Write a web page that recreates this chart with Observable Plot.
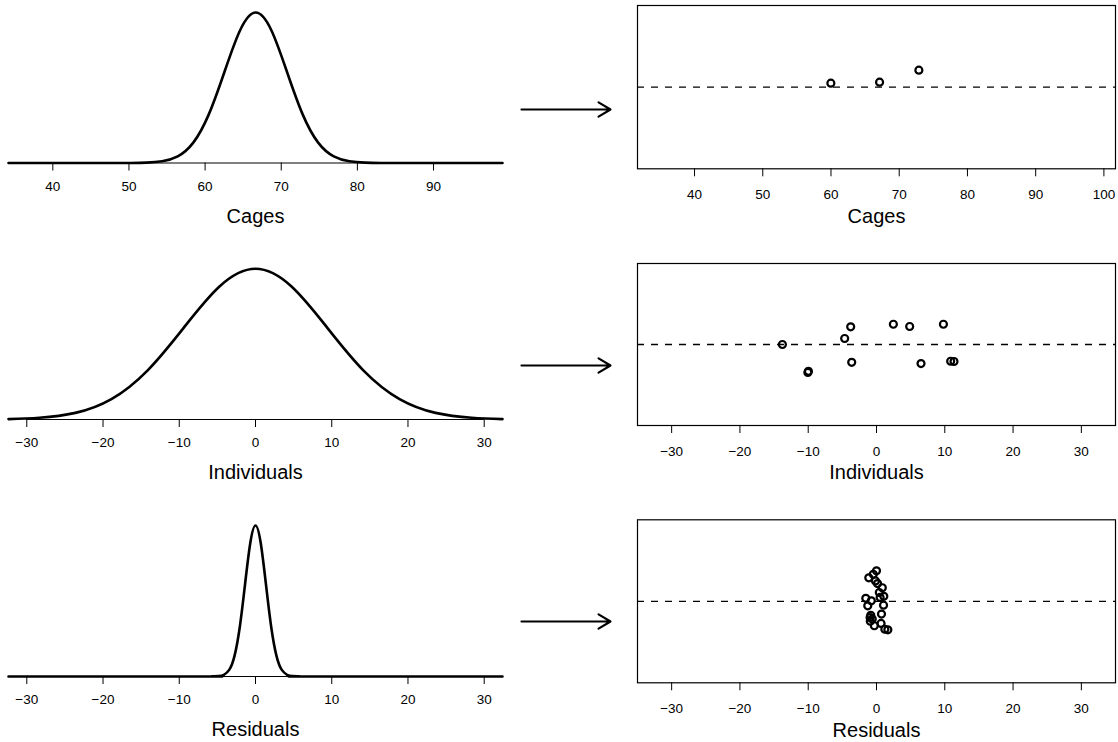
<!DOCTYPE html>
<html><head><meta charset="utf-8">
<script src="https://cdn.jsdelivr.net/npm/d3@7"></script>
<script src="https://cdn.jsdelivr.net/npm/@observablehq/plot@0.6"></script>
<style>
html,body{margin:0;padding:0;background:#fff;}
#root{position:relative;width:1118px;height:742px;overflow:hidden;background:#fff;}
.panel{position:absolute;}
.panel svg{overflow:visible;}
</style></head><body><div id="root"></div>
<script>
// ---- data ----
const rowNames = ["Cages", "Individuals", "Residuals"];

// density curves (relative height, peak = 1), read from the left column
const cagesDensX = [34.18, 46.15, 50.25, 52.3, 54.35, 56.4, 58.45, 60.5, 62.55, 64.6, 66.65, 68.7, 70.75, 72.8, 74.85, 76.9, 78.95, 81.0, 83.05, 87.15, 99.06];
const cagesDensY = [0, 0, 0.0003, 0.0022, 0.0111, 0.0439, 0.1353, 0.3247, 0.6065, 0.8825, 1, 0.8825, 0.6065, 0.3247, 0.1353, 0.0439, 0.0111, 0.0022, 0.0003, 0, 0];
const indivDensX = [-32.4, -28.35, -23.625, -18.9, -14.175, -9.45, -4.725, 0, 4.725, 9.45, 14.175, 18.9, 23.625, 28.35, 32.4];
const indivDensY = [0.0028, 0.0111, 0.0439, 0.1353, 0.3247, 0.6065, 0.8825, 1, 0.8825, 0.6065, 0.3247, 0.1353, 0.0439, 0.0111, 0.0028];
const residDensX = [-32.4, -6.9, -5.52, -4.83, -4.14, -3.45, -2.76, -2.07, -1.38, -0.69, 0, 0.69, 1.38, 2.07, 2.76, 3.45, 4.14, 4.83, 5.52, 6.9, 32.4];
const residDensY = [0, 0, 0.0003, 0.0022, 0.0111, 0.0439, 0.1353, 0.3247, 0.6065, 0.8825, 1, 0.8825, 0.6065, 0.3247, 0.1353, 0.0439, 0.0111, 0.0022, 0.0003, 0, 0];

// sampled effects (x) with vertical jitter (y), read from the right column
const cagesPtX = [59.98, 67.12, 72.88];
const cagesPtY = [0.049, 0.061, 0.208];
const indivPtX = [-13.78, -9.97, -10.05, -4.66, -3.78, -3.63, 2.47, 4.86, 6.52, 9.8, 10.86, 11.35];
const indivPtY = [0.0, -0.33, -0.345, 0.074, 0.218, -0.22, 0.25, 0.222, -0.235, 0.25, -0.207, -0.21];
const residPtX = [0.0, -0.47, -1.13, -0.15, 0.15, 0.85, 0.41, 1.07, 0.53, -1.57, -0.76, -1.28, 1.03, 0.73, -0.84, -0.62, -0.91, -0.32, 0.67, 1.22, 1.66, -0.94];
const residPtY = [0.374, 0.331, 0.288, 0.25, 0.218, 0.166, 0.108, 0.061, 0.047, 0.037, 0.006, -0.055, -0.047, -0.157, -0.172, -0.218, -0.245, -0.3, -0.272, -0.343, -0.35, -0.199];

// tick labels
const cagesTicksLeft = [40, 50, 60, 70, 80, 90];
const cagesTicksRight = [40, 50, 60, 70, 80, 90, 100];
const symTicks = [-30, -20, -10, 0, 10, 20, 30];

// ---- drawing ----
const FONT = "'Liberation Sans', Arial, Helvetica, sans-serif";
const baseStyle = {fontFamily: FONT, fontSize: "13px", color: "black", background: "transparent", overflow: "visible"};
const root = document.getElementById("root");

function place(el, left, top) {
  const d = document.createElement("div");
  d.className = "panel";
  d.style.left = left + "px";
  d.style.top = top + "px";
  d.appendChild(el);
  root.appendChild(d);
}

function densityPanel(xs, ys, domain, ticks, title, lay) {
  return Plot.plot({
    width: 510, height: lay.h, marginLeft: 8, marginRight: 8, marginTop: lay.mt, marginBottom: lay.mb,
    x: {domain}, y: {domain: [0, 1], axis: null},
    style: baseStyle,
    marks: [
      Plot.ruleY([0], {x1: ticks[0], x2: ticks[ticks.length - 1], stroke: "black", strokeWidth: 1}),
      Plot.axisX(ticks, {tickSize: 8, tickPadding: 10, fontSize: 13.5, label: null, stroke: "black", fill: "black"}),
      Plot.line(ys, {x: xs, y: ys, curve: "natural", stroke: "black", strokeWidth: 2.6}),
      Plot.text([title], {frameAnchor: "bottom", dy: 53.5, fontSize: 20, lineAnchor: "middle", fill: "black"})
    ]
  });
}

function pointPanel(xs, ys, domain, ticks, title, lay) {
  return Plot.plot({
    width: 488, height: lay.h, marginLeft: 7, marginRight: 3, marginTop: lay.mt, marginBottom: lay.mb,
    x: {domain}, y: {domain: [-1, 1], axis: null},
    style: baseStyle,
    marks: [
      Plot.frame({stroke: "black", strokeWidth: 1.2}),
      Plot.ruleY([0], {stroke: "black", strokeWidth: 1.3, strokeDasharray: "7,7"}),
      Plot.dot(xs, {x: xs, y: ys, r: 3.5, stroke: "black", strokeWidth: 2.2, fill: "none"}),
      Plot.axisX(ticks, {tickSize: 8, tickPadding: 12.5, fontSize: 13.5, label: null, stroke: "black", fill: "black"}),
      Plot.text([title], {frameAnchor: "bottom", dy: 47.5, fontSize: 20, lineAnchor: "middle", fill: "black"})
    ]
  });
}

place(densityPanel(cagesDensX, cagesDensY, [34.18, 99.06], cagesTicksLeft, rowNames[0], {h: 237.5, mt: 12, mb: 75}), 0, 0);
place(densityPanel(indivDensX, indivDensY, [-32.4, 32.4], symTicks, rowNames[1], {h: 239, mt: 12.3, mb: 76}), 0, 256);
place(densityPanel(residDensX, residDensY, [-32.4, 32.4], symTicks, rowNames[2], {h: 230, mt: 13, mb: 66}), 0, 512);

place(pointPanel(cagesPtX, cagesPtY, [31.64, 101.7], cagesTicksRight, rowNames[0], {h: 238.3, mt: 5, mb: 70}), 630, 0);
place(pointPanel(indivPtX, indivPtY, [-35, 35], symTicks, rowNames[1], {h: 239, mt: 7, mb: 70}), 630, 256);
place(pointPanel(residPtX, residPtY, [-35, 35], symTicks, rowNames[2], {h: 230, mt: 7.3, mb: 59.7}), 630, 512);

place(Plot.plot({
  width: 120, height: 742, margin: 0,
  x: {domain: [0, 1], range: [11, 100], axis: null},
  y: {type: "point", domain: rowNames, range: [108, 621], padding: 0, axis: null},
  style: baseStyle,
  marks: [
    Plot.arrow(rowNames, {x1: 0, x2: 1, y1: d => d, y2: d => d, stroke: "black", strokeWidth: 2.2, headLength: 9.5, headAngle: 62, bend: 0})
  ]
}), 510, 0);
</script></body></html>
